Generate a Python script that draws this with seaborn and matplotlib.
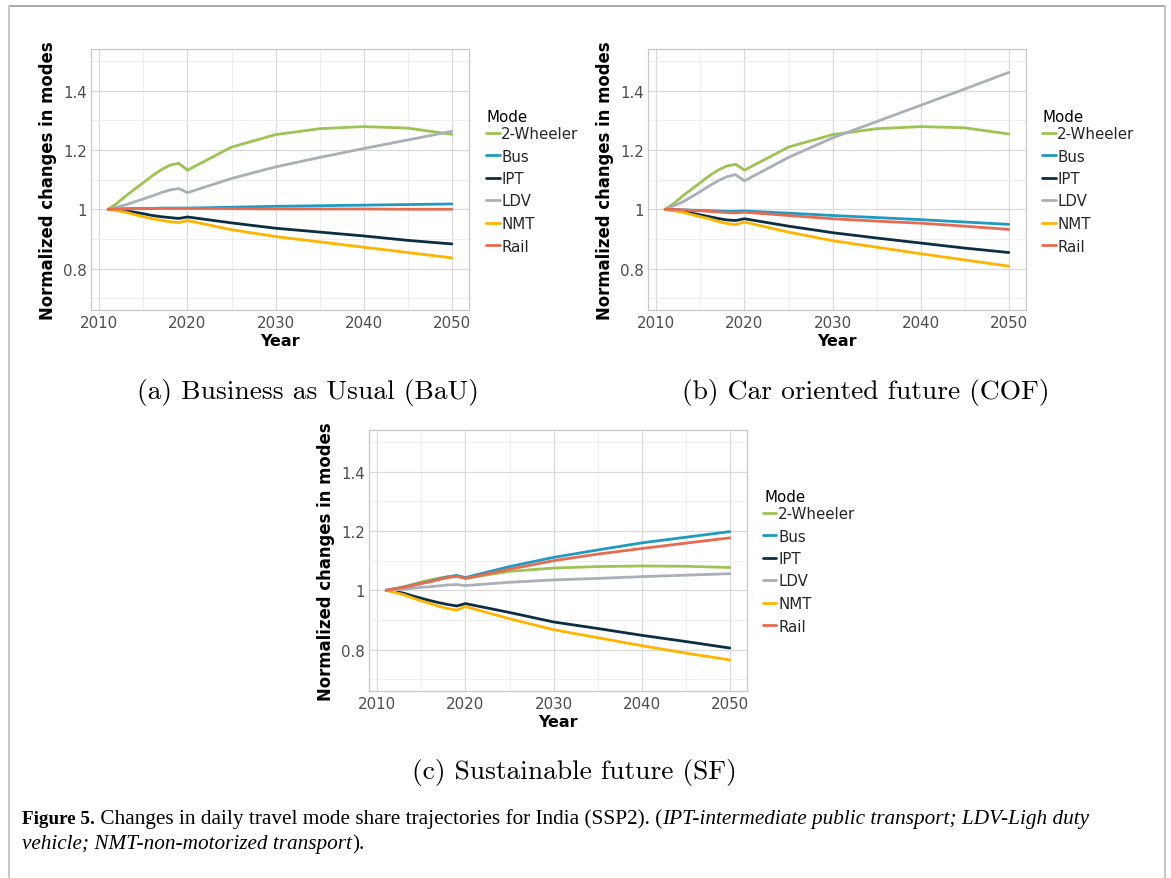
import numpy as np
import pandas as pd
import matplotlib
matplotlib.use("Agg")
import matplotlib.pyplot as plt
from matplotlib.lines import Line2D
from matplotlib.ticker import FixedLocator
import seaborn as sns

# ---------------- data ----------------
years = [2011, 2012, 2013, 2014, 2015, 2016, 2017, 2018, 2019, 2020,
         2025, 2030, 2035, 2040, 2045, 2050]
modes = ["2-Wheeler", "Bus", "IPT", "LDV", "NMT", "Rail"]

bau_2w   = [1.000, 1.020, 1.045, 1.068, 1.090, 1.113, 1.133, 1.149, 1.155, 1.132, 1.210, 1.252, 1.272, 1.279, 1.274, 1.253]
bau_bus  = [1.000, 1.001, 1.002, 1.002, 1.003, 1.003, 1.004, 1.004, 1.004, 1.004, 1.007, 1.010, 1.012, 1.014, 1.016, 1.018]
bau_ipt  = [1.000, 0.998, 0.995, 0.990, 0.985, 0.979, 0.975, 0.972, 0.969, 0.974, 0.954, 0.936, 0.923, 0.910, 0.895, 0.883]
bau_ldv  = [1.000, 1.007, 1.015, 1.025, 1.035, 1.045, 1.056, 1.065, 1.070, 1.056, 1.104, 1.143, 1.175, 1.205, 1.234, 1.263]
bau_nmt  = [1.000, 0.995, 0.990, 0.982, 0.975, 0.968, 0.963, 0.958, 0.955, 0.962, 0.931, 0.908, 0.890, 0.872, 0.854, 0.836]
bau_rail = [1.000, 1.001, 1.001, 1.002, 1.002, 1.003, 1.003, 1.003, 1.003, 1.003, 1.002, 1.001, 1.001, 1.001, 1.000, 1.000]

cof_2w   = [1.000, 1.020, 1.045, 1.068, 1.090, 1.113, 1.132, 1.146, 1.152, 1.132, 1.210, 1.252, 1.272, 1.279, 1.275, 1.254]
cof_bus  = [1.000, 0.999, 0.998, 0.997, 0.996, 0.995, 0.994, 0.993, 0.993, 0.994, 0.987, 0.979, 0.972, 0.965, 0.957, 0.949]
cof_ipt  = [1.000, 0.997, 0.993, 0.987, 0.981, 0.975, 0.969, 0.964, 0.962, 0.968, 0.943, 0.921, 0.903, 0.886, 0.869, 0.854]
cof_ldv  = [1.000, 1.012, 1.025, 1.042, 1.060, 1.079, 1.096, 1.110, 1.117, 1.096, 1.175, 1.241, 1.296, 1.351, 1.406, 1.462]
cof_nmt  = [1.000, 0.995, 0.990, 0.982, 0.975, 0.968, 0.959, 0.952, 0.948, 0.957, 0.923, 0.894, 0.872, 0.850, 0.829, 0.808]
cof_rail = [1.000, 0.999, 0.998, 0.996, 0.995, 0.993, 0.991, 0.989, 0.988, 0.990, 0.979, 0.968, 0.960, 0.953, 0.943, 0.932]

sf_2w    = [1.000, 1.005, 1.012, 1.020, 1.028, 1.035, 1.041, 1.046, 1.048, 1.040, 1.064, 1.075, 1.080, 1.082, 1.081, 1.077]
sf_bus   = [1.000, 1.005, 1.010, 1.017, 1.024, 1.030, 1.038, 1.045, 1.050, 1.043, 1.080, 1.111, 1.136, 1.160, 1.179, 1.198]
sf_ipt   = [1.000, 0.996, 0.990, 0.981, 0.973, 0.965, 0.958, 0.952, 0.947, 0.955, 0.925, 0.893, 0.871, 0.848, 0.827, 0.805]
sf_ldv   = [1.000, 1.002, 1.004, 1.007, 1.010, 1.012, 1.015, 1.018, 1.019, 1.016, 1.027, 1.035, 1.040, 1.046, 1.051, 1.056]
sf_nmt   = [1.000, 0.993, 0.985, 0.974, 0.964, 0.955, 0.946, 0.938, 0.933, 0.945, 0.904, 0.867, 0.840, 0.813, 0.788, 0.765]
sf_rail  = [1.000, 1.005, 1.010, 1.016, 1.023, 1.029, 1.036, 1.043, 1.047, 1.040, 1.071, 1.100, 1.122, 1.141, 1.159, 1.177]

panels = [
    ("(a) Business as Usual (BaU)", [bau_2w, bau_bus, bau_ipt, bau_ldv, bau_nmt, bau_rail]),
    ("(b) Car oriented future (COF)", [cof_2w, cof_bus, cof_ipt, cof_ldv, cof_nmt, cof_rail]),
    ("(c) Sustainable future (SF)", [sf_2w, sf_bus, sf_ipt, sf_ldv, sf_nmt, sf_rail]),
]
y_ticks = [0.8, 1.0, 1.2, 1.4]
y_tick_labels = ["0.8", "1", "1.2", "1.4"]
x_ticks = [2010, 2020, 2030, 2040, 2050]

palette = {"2-Wheeler": "#9DC453", "Bus": "#1F9AC0", "IPT": "#0C2E42",
           "LDV": "#A9B0B8", "NMT": "#FFB400", "Rail": "#E86A50"}

# ---------------- figure ----------------
sns.set_theme(style="white")
plt.rcParams["font.family"] = ["DejaVu Sans"]

W, H = 1171, 879
fig = plt.figure(figsize=(W / 100, H / 100), dpi=100)

def fx(px):
    return px / W

def fy(py):
    return 1 - py / H

# axes rectangles in pixels: left, top, width, height
rects = [(91, 50, 378, 261), (648, 50, 378, 261), (369, 431, 378, 261)]
legend_pos = [(486, 118), (1042, 118), (763, 498)]
caption_pos = [(308, 393), (866, 393), (574, 773)]

grid_major = "#DADADA"
grid_minor = "#EBEBEB"
tick_col = "#4D4D4D"

for (cap, series), (l, t, w, h), (lx, ly), (cx, cy) in zip(panels, rects, legend_pos, caption_pos):
    ax = fig.add_axes([fx(l), fy(t + h), w / W, h / H])
    df = pd.DataFrame({
        "Year": np.tile(years, len(modes)),
        "Value": np.concatenate([np.array(s) for s in series]),
        "Mode": np.repeat(modes, len(years)),
    })
    sns.lineplot(data=df, x="Year", y="Value", hue="Mode", hue_order=modes,
                 palette=palette, linewidth=2.0, ax=ax, legend=False)
    ax.set_xlim(2009.05, 2051.95)
    ax.set_ylim(0.66, 1.541)
    ax.xaxis.set_major_locator(FixedLocator(x_ticks))
    ax.xaxis.set_minor_locator(FixedLocator([2015, 2025, 2035, 2045]))
    ax.yaxis.set_major_locator(FixedLocator(y_ticks))
    ax.set_yticklabels(y_tick_labels)
    ax.yaxis.set_minor_locator(FixedLocator([0.7, 0.9, 1.1, 1.3, 1.5]))
    ax.grid(which="major", color=grid_major, linewidth=0.9)
    ax.grid(which="minor", color=grid_minor, linewidth=0.6)
    ax.set_axisbelow(True)
    for sp in ax.spines.values():
        sp.set_color("#C8C8C8")
        sp.set_linewidth(0.9)
    ax.tick_params(which="major", length=2.2, width=0.8, color="#BDBDBD",
                   labelsize=10.8, labelcolor=tick_col, pad=1.5)
    ax.tick_params(axis="y", which="major", pad=0.8)
    ax.tick_params(which="minor", length=0)
    ax.set_xlabel("Year", fontsize=11.5, fontweight="bold", color="black")
    ax.set_ylabel("Normalized changes in modes", fontsize=11.9, fontweight="bold", color="black")
    ax.xaxis.set_label_coords(0.5, -23 / h)
    ax.xaxis.label.set_va("top")
    ax.yaxis.set_label_coords(-34 / w, 0.5)

    # legend: title as separate text, entries as a legend
    fig.text(fx(lx + 1), fy(ly), "Mode", fontsize=10.8, ha="left", va="center",
             color="black")
    handles = [Line2D([0], [0], color=palette[m], lw=2.0) for m in modes]
    fig.legend(handles, modes, loc="upper left",
               bbox_to_anchor=(fx(lx), fy(ly + 9)), frameon=False,
               fontsize=10.8, handlelength=0.9,
               handletextpad=0.12, labelspacing=0.5, borderpad=0,
               borderaxespad=0)

    fig.text(fx(cx), fy(cy), cap, family="cmr10", fontsize=19.8,
             ha="center", va="center", color="black")

# figure frame
fig.add_artist(Line2D([fx(8.5), fx(1164.5)], [fy(6.5), fy(6.5)], color="#9A9A9A", lw=1.2))
fig.add_artist(Line2D([fx(8.5), fx(8.5)], [fy(6.5), 0], color="#C8C8C8", lw=1.5))
fig.add_artist(Line2D([fx(1164.5), fx(1164.5)], [fy(6.5), 0], color="#C8C8C8", lw=1.5))

# figure caption, built piece by piece
renderer = fig.canvas.get_renderer()
serif = "Liberation Serif"

def write_line(pieces, x0, ybase):
    x = x0
    for txt, weight, style, size in pieces:
        t = fig.text(fx(x), fy(ybase), txt, family=serif, fontsize=size,
                     fontweight=weight, fontstyle=style, ha="left",
                     va="baseline", color="black")
        bb = t.get_window_extent(renderer=renderer)
        x += bb.width

write_line([("Figure 5.", "bold", "normal", 13.8),
            (" Changes in daily travel mode share trajectories for India (SSP2). (", "normal", "normal", 15.3),
            ("IPT-intermediate public transport; LDV-Ligh duty", "normal", "italic", 15.3)],
           22, 824)
write_line([("vehicle; NMT-non-motorized transport", "normal", "italic", 15.3),
            (").", "normal", "normal", 15.3)],
           22, 849)

fig.savefig("out.png", dpi=100)
